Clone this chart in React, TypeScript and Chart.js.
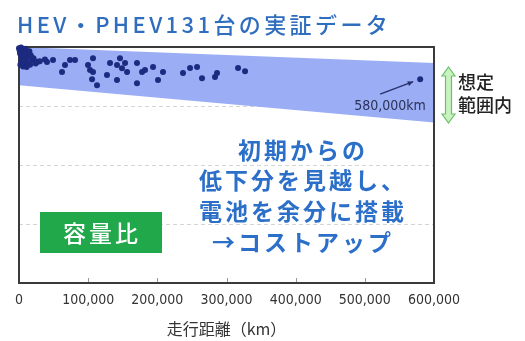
import React, { useEffect, useRef } from 'react';
import { Chart, registerables } from 'chart.js';

Chart.register(...registerables);

// Heading and axis text
const titleText = 'HEV・PHEV131台の実証データ';
const xAxisTitle = '走行距離（km）';

// Axis ranges (km on x, capacity ratio % on y)
const xMin = 0;
const xMax = 600000;
const xStep = 100000;
const yMin = 60;
const yMax = 100;
const yStep = 10;

// Expected-range band: upper and lower edges
const bandKm = [0, 600000];
const bandUpperPct = [100, 97.3];
const bandLowerPct = [93.5, 87.2];

// Measured vehicles: mileage (km) and capacity ratio (%)
const sampleKm = [
  0, 1000, 3000, 1500, 5000, 6500, 3500, 7000, 10000, 9000, 12500, 14000, 12000,
  17000, 19000, 21000, 4000, 8000, 6000, 11000, 2000, 16000, 24000, 27000, 30000,
  9500, 15000, 37500, 40500, 49200, 62200, 66500, 73700, 81000, 107000, 99800,
  102700, 107000, 105600, 112800, 127200, 131600, 141700, 146000, 148900, 153300,
  141700, 156200, 170600, 177900, 182200, 170600, 193800, 208200, 201000, 237100,
  247300, 257400, 264600, 283400, 286300, 316700, 326800, 580000,
];
const samplePct = [
  99.8, 99.4, 99.9, 98.9, 99.1, 99.6, 98.3, 98.6, 99.2, 97.9, 98.9, 98.2, 97.3,
  98.6, 97.8, 98.1, 97.6, 97.1, 96.7, 96.6, 97.0, 97.0, 97.2, 97.5, 97.6,
  99.7, 99.3, 97.9, 97.45, 97.8, 95.75, 96.95, 97.8, 97.8, 98.1, 96.95,
  96.1, 95.75, 94.55, 93.5, 95.25, 97.3, 96.95, 98.1, 96.4, 97.3,
  94.4, 95.75, 97.3, 95.75, 96.1, 93.85, 96.6, 95.75, 94.4, 95.6,
  96.45, 96.6, 94.7, 94.9, 95.6, 96.45, 95.9, 94.55,
];

// Highest-mileage vehicle, called out on the chart
const highlightKm = 580000;
const highlightLabel = '580,000km';

// Callout texts
const noteLines = ['初期からの', '低下分を見越し、', '電池を余分に搭載', '→コストアップ'];
const badgeText = '容量比';
const rangeLines = ['想定', '範囲内'];

const JP = '"Noto Sans CJK JP", "Noto Sans", sans-serif';
const NUM = '"DejaVu Sans Condensed", "DejaVu Sans", sans-serif';

const decorations = {
  id: 'decorations',
  beforeDatasetDraw(chart: any, args: any) {
    // plot frame, drawn just before the scatter so the points sit on top
    if (args.index !== 0) return;
    const { ctx, chartArea: a } = chart;
    ctx.save();
    ctx.strokeStyle = '#3a3a3a';
    ctx.lineWidth = 2;
    ctx.strokeRect(a.left, a.top, a.right - a.left, a.bottom - a.top);
    // short inward tick marks along the bottom edge
    const xs = chart.scales.x;
    ctx.strokeStyle = '#999';
    ctx.lineWidth = 1;
    for (let v = xMin + xStep; v < xMax; v += xStep) {
      const px = Math.round(xs.getPixelForValue(v)) + 0.5;
      ctx.beginPath();
      ctx.moveTo(px, a.bottom - 1);
      ctx.lineTo(px, a.bottom - 5);
      ctx.stroke();
    }
    ctx.restore();
  },
  afterDraw(chart: any) {
    const { ctx, chartArea: a } = chart;
    const xs = chart.scales.x;
    const ys = chart.scales.y;
    ctx.save();

    // heading
    ctx.fillStyle = '#2f6dbe';
    ctx.font = `500 22px ${JP}`;
    ctx.textBaseline = 'middle';
    ctx.textAlign = 'left';
    (ctx as any).letterSpacing = '3.4px';
    ctx.fillText(titleText, 17, 25);
    (ctx as any).letterSpacing = '0px';

    // pointer to the highest-mileage vehicle
    const hi = sampleKm.indexOf(highlightKm);
    const px = xs.getPixelForValue(highlightKm);
    const py = ys.getPixelForValue(samplePct[hi]);
    const x0 = px - 40, y0 = py + 15, x1 = px - 7, y1 = py + 2.5;
    ctx.strokeStyle = '#27306a';
    ctx.fillStyle = '#27306a';
    ctx.lineWidth = 1.3;
    ctx.beginPath();
    ctx.moveTo(x0, y0);
    ctx.lineTo(x1, y1);
    ctx.stroke();
    const ang = Math.atan2(y1 - y0, x1 - x0);
    ctx.beginPath();
    ctx.moveTo(x1, y1);
    ctx.lineTo(x1 - 6 * Math.cos(ang - 0.45), y1 - 6 * Math.sin(ang - 0.45));
    ctx.lineTo(x1 - 6 * Math.cos(ang + 0.45), y1 - 6 * Math.sin(ang + 0.45));
    ctx.closePath();
    ctx.fill();
    ctx.fillStyle = '#2a3358';
    ctx.font = `14px ${NUM}`;
    ctx.textAlign = 'center';
    ctx.fillText(highlightLabel, Math.min(px - 30, a.right - 44), py + 27);

    // blue explanatory note
    ctx.fillStyle = '#2c6fc9';
    ctx.font = `bold 23px ${JP}`;
    (ctx as any).letterSpacing = '3px';
    const noteY = [150, 180, 211, 242];
    noteLines.forEach((t, i) => ctx.fillText(t, 303, noteY[i]));
    (ctx as any).letterSpacing = '0px';

    // green label box
    ctx.fillStyle = '#21a84b';
    ctx.fillRect(40, 212, 122, 41);
    ctx.fillStyle = '#ffffff';
    ctx.font = `500 23px ${JP}`;
    (ctx as any).letterSpacing = '3px';
    ctx.fillText(badgeText, 102, 233);
    (ctx as any).letterSpacing = '0px';

    // double-headed arrow marking the expected range
    const cx = 448.5, top = 67, bot = 123, hw = 6.5, sw = 3, hh = 9;
    ctx.beginPath();
    ctx.moveTo(cx, top);
    ctx.lineTo(cx + hw, top + hh);
    ctx.lineTo(cx + sw, top + hh);
    ctx.lineTo(cx + sw, bot - hh);
    ctx.lineTo(cx + hw, bot - hh);
    ctx.lineTo(cx, bot);
    ctx.lineTo(cx - hw, bot - hh);
    ctx.lineTo(cx - sw, bot - hh);
    ctx.lineTo(cx - sw, top + hh);
    ctx.lineTo(cx - hw, top + hh);
    ctx.closePath();
    ctx.fillStyle = '#c8f3c0';
    ctx.fill();
    ctx.strokeStyle = '#6dbf6c';
    ctx.lineWidth = 1.2;
    ctx.stroke();

    ctx.fillStyle = '#222';
    ctx.font = `500 18px ${JP}`;
    ctx.textAlign = 'left';
    ctx.fillText(rangeLines[0], 458, 82);
    ctx.fillText(rangeLines[1], 458, 105);

    ctx.restore();
  },
};

export default function App() {
  const canvasRef = useRef<HTMLCanvasElement | null>(null);

  useEffect(() => {
    const canvas = canvasRef.current;
    if (!canvas) return;

    const chart = new Chart(canvas, {
      type: 'scatter',
      data: {
        datasets: [
          {
            label: 'vehicles',
            data: sampleKm.map((x, i) => ({ x, y: samplePct[i] })),
            backgroundColor: '#1c2a80',
            borderColor: '#1c2a80',
            pointRadius: 3,
            pointBorderWidth: 0,
            clip: 6,
            order: 0,
          },
          {
            type: 'line',
            label: 'band-lower',
            data: bandKm.map((x, i) => ({ x, y: bandLowerPct[i] })),
            borderWidth: 0,
            pointRadius: 0,
            fill: false,
            order: 1,
          },
          {
            type: 'line',
            label: 'band-upper',
            data: bandKm.map((x, i) => ({ x, y: bandUpperPct[i] })),
            borderWidth: 0,
            pointRadius: 0,
            backgroundColor: '#9badf5',
            fill: 1,
            order: 2,
          },
        ],
      } as any,
      options: {
        responsive: false,
        animation: false,
        devicePixelRatio: 1,
        layout: { padding: { left: 0, top: 47, right: 91, bottom: 0 } },
        plugins: {
          legend: { display: false },
          tooltip: { enabled: false },
          title: { display: false },
        },
        scales: {
          x: {
            type: 'linear',
            min: xMin,
            max: xMax,
            border: { display: false },
            grid: { display: false, drawTicks: false, tickLength: 0 },
            ticks: {
              stepSize: xStep,
              padding: 9,
              color: '#333',
              font: { family: NUM, size: 14 },
              maxRotation: 0,
              autoSkip: false,
              callback: (v: any) => Number(v).toLocaleString('en-US'),
            },
            title: {
              display: true,
              text: xAxisTitle,
              color: '#333',
              font: { family: JP, size: 16 },
              padding: { top: 0, bottom: 2 },
            },
            afterFit: (s: any) => {
              s.height = 58;
            },
          },
          y: {
            type: 'linear',
            min: yMin,
            max: yMax,
            border: { display: false, dash: [4, 3] },
            grid: {
              color: '#d4d4d4',
              lineWidth: 1,
              drawTicks: false,
              tickLength: 0,
            },
            ticks: { display: false, stepSize: yStep },
            afterFit: (s: any) => {
              s.width = 19;
            },
          },
        },
      } as any,
      plugins: [decorations],
    });

    return () => chart.destroy();
  }, []);

  return (
    <div style={{ position: 'fixed', left: 0, top: 0, width: 525, height: 341, background: '#fff' }}>
      <canvas ref={canvasRef} width={525} height={341} style={{ display: 'block' }} />
    </div>
  );
}
